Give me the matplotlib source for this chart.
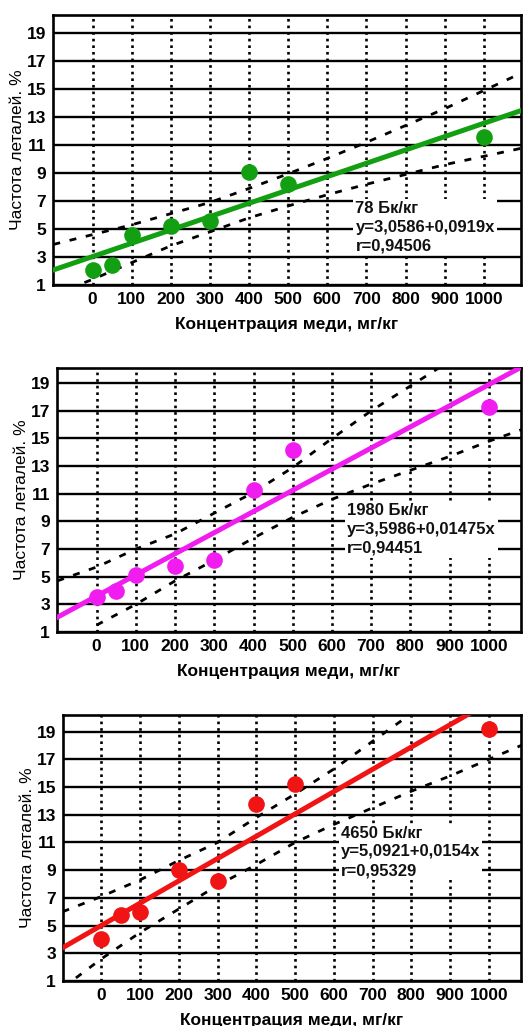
import matplotlib

matplotlib.use("Agg")
import matplotlib.pyplot as plt

plt.rcParams["font.family"] = ["Liberation Sans", "DejaVu Sans"]

# ── данные ──
x_conc = [0, 50, 100, 200, 300, 400, 500, 1000]
y_78 = [2.1, 2.4, 4.6, 5.2, 5.6, 9.1, 8.2, 11.6]
y_1980 = [3.5, 4.0, 5.1, 5.8, 6.2, 11.3, 14.2, 17.3]
y_4650 = [4.0, 5.8, 6.0, 9.0, 8.2, 13.8, 15.2, 19.2]

# линия регрессии (intercept, slope), как нарисовано
fit_78 = (3.03, 0.00953)
fit_1980 = (3.60, 0.0153)
fit_4650 = (5.01, 0.0161)

# доверительные полосы (пунктир)
band_x_full = [-100, 0, 100, 200, 300, 400, 500, 600, 700, 800, 900, 1000, 1100]
upper_78 = [3.9, 4.6, 5.3, 6.1, 6.9, 7.9, 8.95, 10.05, 11.2, 12.4, 13.6, 14.9, 16.2]
lower_78 = [0.3, 1.4, 2.6, 3.8, 4.8, 5.8, 6.65, 7.45, 8.2, 8.9, 9.6, 10.2, 10.8]

band_x_up_1980 = [-100, 0, 100, 200, 300, 400, 500, 600, 700, 800, 900]
upper_1980 = [4.7, 5.7, 7.0, 8.1, 9.6, 11.1, 12.9, 15.0, 17.0, 18.8, 20.6]
band_x_lo_1980 = [0, 100, 200, 300, 400, 500, 600, 700, 800, 900, 1000, 1100]
lower_1980 = [1.5, 3.0, 4.7, 6.2, 7.8, 9.3, 10.6, 11.7, 12.7, 13.7, 14.8, 15.8]

band_x_up_4650 = [-100, 0, 100, 200, 300, 400, 500, 600, 700, 800]
upper_4650 = [6.0, 7.1, 8.3, 9.7, 11.0, 12.8, 14.5, 16.3, 18.3, 20.3]
lower_4650 = [0.5, 2.6, 4.5, 6.2, 7.9, 9.4, 11.0, 12.3, 13.5, 14.7, 15.8, 17.0, 18.2]

labels = [
    ["78 Бк/кг", "y=3,0586+0,0919x", "r=0,94506"],
    ["1980 Бк/кг", "y=3,5986+0,01475x", "r=0,94451"],
    ["4650 Бк/кг", "y=5,0921+0,0154x", "r=0,95329"],
]

x_ticks = list(range(0, 1001, 100))
y_ticks = list(range(1, 20, 2))

panels = [
    dict(y=y_78, fit=fit_78, color="#12a012",
         bands=[(band_x_full, upper_78), (band_x_full, lower_78)],
         rect=[53, 15, 521, 285], xlim=(-101, 1095), ylim=(1, 20.3),
         text_xy=(672, 7.0)),
    dict(y=y_1980, fit=fit_1980, color="#f01cf0",
         bands=[(band_x_up_1980, upper_1980), (band_x_lo_1980, lower_1980)],
         rect=[57, 368, 521, 632], xlim=(-101, 1082), ylim=(1, 20.1),
         text_xy=(638, 10.3)),
    dict(y=y_4650, fit=fit_4650, color="#f01414",
         bands=[(band_x_up_4650, upper_4650), (band_x_full, lower_4650)],
         rect=[63, 715, 521, 981], xlim=(-99, 1083), ylim=(1, 20.2),
         text_xy=(618, 12.2)),
]

W, H = 523, 1026
fig = plt.figure(figsize=(W / 100, H / 100), dpi=100)

for p, lab in zip(panels, labels):
    l, t, r, b = p["rect"]
    ax = fig.add_axes([l / W, 1 - b / H, (r - l) / W, (b - t) / H])
    ax.set_xlim(*p["xlim"])
    ax.set_ylim(*p["ylim"])

    # сетка: горизонтальные сплошные, вертикальные точечные
    for yt in y_ticks:
        ax.axhline(yt, color="black", lw=1.7, zorder=1)
    for xt in x_ticks:
        ax.axvline(xt, color="black", lw=1.9, ls=(0, (1, 1.5)), zorder=1)

    for bx, by in p["bands"]:
        ax.plot(bx, by, color="black", lw=2.0, ls=(0, (2.5, 3.5)), zorder=2)

    a, k = p["fit"]
    x0, x1 = p["xlim"]
    ax.plot([x0, x1], [a + k * x0, a + k * x1], color=p["color"], lw=3.6,
            zorder=3)
    ax.plot(x_conc, p["y"], "o", color=p["color"], ms=12, mec="none",
            zorder=4)

    tx, ty = p["text_xy"]
    ax.text(tx, ty, lab[0] + "\n" + lab[1] + "\n" + lab[2],
            fontsize=12, fontweight="bold", va="top", ha="left",
            linespacing=1.3, zorder=5, color="#111111",
            bbox=dict(facecolor="white", edgecolor="none", pad=1.5))

    ax.set_xticks(x_ticks)
    ax.set_yticks(y_ticks)
    ax.tick_params(length=0, labelsize=12.5, pad=5)
    for tl in ax.get_xticklabels() + ax.get_yticklabels():
        tl.set_fontweight("bold")
    for s in ax.spines.values():
        s.set_linewidth(1.9)
        s.set_color("black")
    ax.set_xlabel("Концентрация меди, мг/кг", fontsize=12.5,
                  fontweight="bold", labelpad=7)
    ax.set_ylabel("Частота леталей. %", fontsize=12.5, labelpad=1)

fig.savefig("out.png", dpi=100)
